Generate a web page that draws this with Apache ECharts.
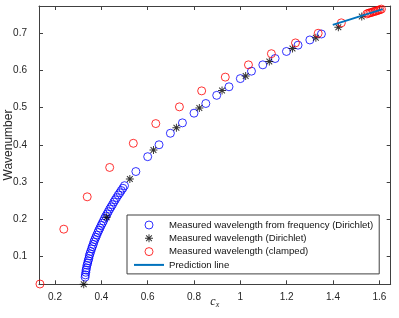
<!DOCTYPE html>
<html><head><meta charset="utf-8">
<script src="https://cdn.jsdelivr.net/npm/echarts@6/dist/echarts.min.js"></script>
<style>html,body{margin:0;padding:0;background:#fff}#c{width:399px;height:318px}</style>
</head><body><div id="c"></div>
<script>
// Measured wavelength from frequency (Dirichlet)
const blueX = [0.330,0.331,0.333,0.334,0.336,0.338,0.341,0.343,0.346,0.348,0.351,0.354,0.358,0.361,0.365,0.368,0.372,0.376,0.380,0.385,0.389,0.394,0.399,0.404,0.409,0.414,0.419,0.425,0.430,0.436,0.442,0.448,0.454,0.460,0.466,0.473,0.480,0.486,0.493,0.500,
  0.549,0.600,0.649,0.698,0.750,0.800,0.851,0.898,0.951,1.000,1.048,1.097,1.150,1.199,1.249,1.300,1.350];
const blueY = [0.044,0.050,0.057,0.063,0.069,0.076,0.082,0.088,0.094,0.101,0.107,0.113,0.120,0.126,0.132,0.139,0.145,0.151,0.157,0.164,0.170,0.176,0.183,0.189,0.195,0.202,0.208,0.214,0.220,0.227,0.233,0.239,0.246,0.252,0.258,0.265,0.271,0.277,0.283,0.290,
  0.328,0.368,0.400,0.431,0.459,0.485,0.511,0.533,0.556,0.578,0.598,0.615,0.632,0.651,0.668,0.682,0.698];
// Measured wavelength (Dirichlet)
const blackX = [0.324,0.423,0.523,0.625,0.724,0.823,0.921,1.023,1.125,1.225,1.326,1.423,1.524];
const blackY = [0.025,0.205,0.308,0.386,0.446,0.499,0.546,0.585,0.624,0.659,0.688,0.716,0.745];
// Measured wavelength (clamped)
const redX = [0.135,0.238,0.339,0.436,0.538,0.635,0.737,0.833,0.935,1.035,1.134,1.238,1.336,1.436,
  1.546,1.553,1.560,1.567,1.574,1.581,1.588,1.595,1.602,1.609];
const redY = [0.0255,0.173,0.260,0.339,0.404,0.457,0.502,0.545,0.582,0.615,0.645,0.674,0.700,0.728,
  0.752,0.754,0.755,0.756,0.758,0.759,0.760,0.762,0.763,0.765];
// Prediction line
const lineX = [1.399,1.615];
const lineY = [0.7226,0.765];
// Ticks
const xTicks = [0.2,0.4,0.6,0.8,1,1.2,1.4,1.6];
const yTicks = [0.1,0.2,0.3,0.4,0.5,0.6,0.7];
const seriesNames = ['Measured wavelength from frequency (Dirichlet)','Measured wavelength (Dirichlet)','Measured wavelength (clamped)','Prediction line'];

const zip = (a,b) => a.map((v,i)=>[v,b[i]]);
const AX = '#404040';
const FONT = '"Liberation Sans", Arial, sans-serif';
const star = 'path://M8.8 0 H11.2 V20 H8.8 Z M0 8.8 H20 V11.2 H0 Z M3.64 1.94 L18.06 16.36 L16.36 18.06 L1.94 3.64 Z M16.36 1.94 L18.06 3.64 L3.64 18.06 L1.94 16.36 Z';

const xBase = {type:'value', min:0.1309, max:1.649, splitLine:{show:false},
  axisLine:{show:true, onZero:false, lineStyle:{color:AX, width:1}},
  axisTick:{inside:true, length:4, customValues:xTicks, lineStyle:{color:AX}}};
const yBase = {type:'value', min:0.0247, max:0.7733, splitLine:{show:false},
  axisLine:{show:true, onZero:false, lineStyle:{color:AX, width:1}},
  axisTick:{inside:true, length:4, customValues:yTicks, lineStyle:{color:AX}}};

const chart = echarts.init(document.getElementById('c'), null, {renderer:'canvas'});
chart.setOption({
  animation:false,
  backgroundColor:'#fff',
  grid:{left:39, top:6, width:351.7, height:278.3},
  xAxis:[
    Object.assign({}, xBase, {position:'bottom', axisLabel:{customValues:xTicks, margin:8, color:'#262626', fontSize:10, fontFamily:FONT}}),
    Object.assign({}, xBase, {position:'top', axisLabel:{show:false}})
  ],
  yAxis:[
    Object.assign({}, yBase, {position:'left', axisLabel:{customValues:yTicks, margin:12, color:'#262626', fontSize:10, fontFamily:FONT}}),
    Object.assign({}, yBase, {position:'right', axisLabel:{show:false}})
  ],
  legend:{
    left:127, top:215, orient:'vertical', itemWidth:30, itemHeight:8, itemGap:3.3,
    padding:[5,6,4,7], borderColor:'#404040', borderWidth:1, backgroundColor:'#fff',
    textStyle:{fontSize:9.6, fontFamily:FONT, color:'#111'},
    data:[
      {name:seriesNames[0], itemStyle:{borderWidth:1}},
      {name:seriesNames[1]},
      {name:seriesNames[2], itemStyle:{borderWidth:1}},
      {name:seriesNames[3], icon:'path://M0 0 H30 V2 H0 Z'}
    ]
  },
  graphic:[
    {type:'text', x:8.5, y:145, rotation:Math.PI/2, style:{text:'Wavenumber', font:'12px '+FONT, fill:'#262626', align:'center', verticalAlign:'middle'}},
    {type:'text', x:213, y:302, style:{text:'c', font:'italic 12px "Liberation Serif", serif', fill:'#262626', align:'center', verticalAlign:'middle'}},
    {type:'text', x:217.5, y:305, style:{text:'x', font:'italic 8px "Liberation Serif", serif', fill:'#262626', align:'center', verticalAlign:'middle'}}
  ],
  series:[
    {name:seriesNames[0], type:'scatter', clip:false, symbol:'circle', symbolSize:8,
     itemStyle:{color:'rgba(0,0,0,0)', borderColor:'#0000ff', borderWidth:1}, data:zip(blueX,blueY)},
    {name:seriesNames[1], type:'scatter', clip:false, symbol:star, symbolSize:8,
     itemStyle:{color:'#000'}, data:zip(blackX,blackY)},
    {name:seriesNames[2], type:'scatter', clip:false, symbol:'circle', symbolSize:8,
     itemStyle:{color:'rgba(0,0,0,0)', borderColor:'#ff0000', borderWidth:1}, data:zip(redX,redY)},
    {name:seriesNames[3], type:'line', symbol:'none', showSymbol:false, clip:false,
     lineStyle:{color:'#0072BD', width:2}, itemStyle:{color:'#0072BD'}, data:zip(lineX,lineY)}
  ]
});
</script></body></html>
